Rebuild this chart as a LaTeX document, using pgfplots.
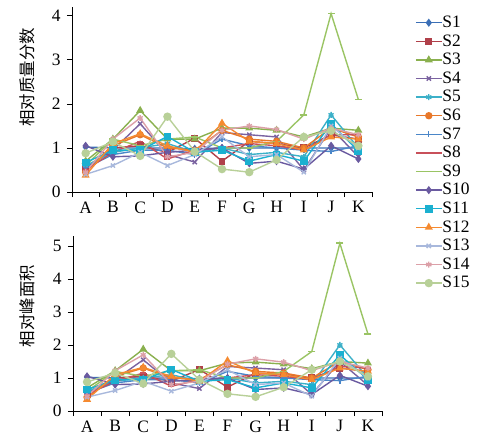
\documentclass[border=0pt]{standalone}
\usepackage{pgfplots}
\pgfplotsset{compat=1.18}
\usepackage{pgfplotstable}
\usepackage{fontspec}
\setmainfont{Liberation Serif}
\newfontfamily\cjk{Noto Sans CJK SC}

\definecolor{c1}{HTML}{3B6FB6}
\definecolor{c2}{HTML}{B0404A}
\definecolor{c3}{HTML}{8AB04E}
\definecolor{c4}{HTML}{7A62A0}
\definecolor{c5}{HTML}{3CB0C8}
\definecolor{c6}{HTML}{E8782A}
\definecolor{c7}{HTML}{4A86C8}
\definecolor{c8}{HTML}{C8505A}
\definecolor{c9}{HTML}{9AC464}
\definecolor{c10}{HTML}{6A5AA0}
\definecolor{c11}{HTML}{1BB0D0}
\definecolor{c12}{HTML}{F58A30}
\definecolor{c13}{HTML}{A8B8DC}
\definecolor{c14}{HTML}{DCA0A8}
\definecolor{c15}{HTML}{B8D098}

% relative mass fraction
\pgfplotstableread{
x  S1   S2   S3   S4   S5   S6   S7   S8   S9   S10  S11  S12  S13  S14  S15
1  1.02 0.50 0.70 0.55 0.60 0.45 0.55 0.50 0.60 1.05 0.67 0.38 0.40 0.45 0.88
2  1.00 1.00 1.20 0.95 0.90 1.05 0.85 0.90 1.20 0.80 0.95 1.10 0.60 1.20 1.14
3  1.00 1.05 1.85 1.55 1.00 1.30 0.95 1.15 1.05 0.82 0.95 1.32 0.90 1.68 0.82
4  1.00 0.90 1.20 0.85 1.10 1.00 0.95 0.75 1.20 0.90 1.26 1.05 0.60 0.80 1.71
5  0.98 1.22 1.20 0.68 0.90 0.95 0.85 0.95 1.25 0.95 0.90 0.90 0.85 0.90 0.92
6  1.00 0.70 1.45 1.35 1.00 1.40 1.20 1.00 1.00 1.00 0.95 1.56 1.25 1.40 0.52
7  1.00 1.15 1.45 1.30 0.85 1.20 1.05 1.10 1.00 0.65 0.70 1.15 0.80 1.50 0.45
8  1.00 1.10 1.40 1.25 0.90 1.15 1.00 1.05 1.15 0.70 0.85 1.10 0.85 1.42 0.73
9  1.00 1.00 1.25 0.50 0.80 1.00 0.95 0.95 1.75 0.52 0.70 0.95 0.45 1.20 1.25
10 1.00 1.30 1.45 1.45 1.75 1.45 0.92 1.30 4.05 1.05 1.55 1.25 1.50 1.45 1.39
11 1.00 1.20 1.40 0.80 1.00 1.25 1.05 1.30 2.10 0.75 0.93 1.20 1.00 1.30 1.05
}\massdata

% relative peak area
\pgfplotstableread{
x  S1   S2   S3   S4   S5   S6   S7   S8   S9   S10  S11  S12  S13  S14  S15
1  1.02 0.50 0.70 0.55 0.60 0.42 0.55 0.50 0.60 1.05 0.65 0.35 0.42 0.45 0.88
2  1.00 1.00 1.22 0.95 0.90 1.05 0.85 0.90 1.20 0.80 0.95 1.10 0.62 1.22 1.15
3  1.00 1.05 1.87 1.55 1.00 1.30 0.95 1.15 1.05 0.82 0.95 1.32 0.90 1.70 0.83
4  1.00 0.90 1.22 0.85 1.10 1.00 0.95 0.75 1.22 0.90 1.26 1.05 0.60 0.80 1.73
5  0.98 1.26 1.22 0.68 0.90 0.95 0.85 0.95 1.25 0.95 0.90 0.90 0.85 0.90 0.95
6  1.00 0.72 1.45 1.35 1.00 1.40 1.20 1.00 1.00 1.00 0.95 1.52 1.25 1.42 0.52
7  1.00 1.15 1.48 1.30 0.85 1.20 1.05 1.10 1.00 0.65 0.70 1.15 0.80 1.58 0.43
8  1.00 1.10 1.42 1.25 0.90 1.15 1.00 1.05 1.20 0.70 0.85 1.10 0.85 1.48 0.72
9  1.00 1.00 1.28 0.50 0.80 1.00 0.95 0.95 1.80 0.50 0.70 0.95 0.45 1.22 1.25
10 1.00 1.30 1.50 1.50 2.00 1.50 0.92 1.35 5.08 1.08 1.70 1.30 1.60 1.50 1.50
11 1.00 1.20 1.45 0.78 1.00 1.25 1.05 1.30 2.33 0.75 0.95 1.20 1.00 1.30 1.05
}\areadata

\tikzset{
  s1/.style={c1, mark=diamond*, mark size=3pt},
  s2/.style={c2, mark=square*, mark size=2.8pt},
  s3/.style={c3, mark=triangle*, mark size=3.3pt},
  s4/.style={c4, mark=x, mark size=3pt},
  s5/.style={c5, mark=asterisk, mark size=3pt},
  s6/.style={c6, mark=*, mark size=3pt},
  s7/.style={c7, mark=+, mark size=3pt},
  s8/.style={c8, mark=-, mark size=3pt},
  s9/.style={c9, mark=-, mark size=3.5pt, mark options={line width=1.6pt}},
  s10/.style={c10, mark=diamond*, mark size=3pt},
  s11/.style={c11, mark=square*, mark size=3.2pt},
  s12/.style={c12, mark=triangle*, mark size=3.3pt},
  s13/.style={c13, mark=x, mark size=3pt},
  s14/.style={c14, mark=asterisk, mark size=3pt},
  s15/.style={c15, mark=*, mark size=3.5pt},
}

\pgfplotsset{
  chart/.style={
    scale only axis,
    xmin=0.5, xmax=11.5, ymin=0,
    axis lines=left,
    axis line style={-, line width=0.8pt},
    tick align=outside,
    major tick length=5bp,
    tick style={black, line width=0.8pt},
    xtick={0.5,1.5,...,11.5},
    xticklabels={},
    extra x ticks={1,2,...,11},
    extra x tick labels={A,B,C,D,E,F,G,H,I,J,K},
    extra x tick style={major tick length=0pt},
    tick label style={font=\fontsize{17.5}{20}\selectfont},
    xticklabel style={yshift=-6bp},
    yticklabel style={xshift=-3bp},
    /pgf/number format/assume math mode=true,
    ylabel style={font=\cjk\fontsize{16.5}{18}\selectfont, anchor=center},
    every axis plot/.append style={line width=1.4pt},
    clip=false,
  },
}

\begin{document}
\begin{tikzpicture}
\useasboundingbox (-72bp,-247bp) rectangle (409bp,192bp);

\begin{axis}[chart,
  at={(0bp,0bp)}, anchor=south west,
  width=300bp, height=185bp,
  ymax=4.2, ytick={0,1,2,3,4},
  ylabel={相对质量分数},
  ylabel style={at={(axis description cs:-0.15,0.62)}},
  legend cell align=left,
  legend style={at={(1.143,0.958)}, anchor=north west, draw=none, fill=none,
    font=\fontsize{17.5}{18}\selectfont, inner sep=0pt, row sep=3.1bp,
    nodes={inner sep=0pt, text height=12.5bp, text depth=3bp},
    /tikz/every even column/.append style={column sep=5bp}},
  legend image code/.code={\draw[mark repeat=2,mark phase=2]
    plot coordinates {(0bp,0bp) (13bp,0bp) (26bp,0bp)};},
]
\addplot[s1]  table[x=x,y=S1]  {\massdata};
\addplot[s2]  table[x=x,y=S2]  {\massdata};
\addplot[s3]  table[x=x,y=S3]  {\massdata};
\addplot[s4]  table[x=x,y=S4]  {\massdata};
\addplot[s5]  table[x=x,y=S5]  {\massdata};
\addplot[s6]  table[x=x,y=S6]  {\massdata};
\addplot[s7]  table[x=x,y=S7]  {\massdata};
\addplot[s8]  table[x=x,y=S8]  {\massdata};
\addplot[s9]  table[x=x,y=S9]  {\massdata};
\addplot[s10] table[x=x,y=S10] {\massdata};
\addplot[s11] table[x=x,y=S11] {\massdata};
\addplot[s12] table[x=x,y=S12] {\massdata};
\addplot[s13] table[x=x,y=S13] {\massdata};
\addplot[s14] table[x=x,y=S14] {\massdata};
\addplot[s15] table[x=x,y=S15] {\massdata};
\legend{S1,S2,S3,S4,S5,S6,S7,S8,S9,S10,S11,S12,S13,S14,S15}
\end{axis}

\begin{axis}[chart,
  at={(1bp,-219bp)}, anchor=south west,
  width=309bp, height=175bp,
  ymax=5.3, ytick={0,1,2,3,4,5},
  ylabel={相对峰面积},
  ylabel style={at={(axis description cs:-0.149,0.60)}},
]
\addplot[s1]  table[x=x,y=S1]  {\areadata};
\addplot[s2]  table[x=x,y=S2]  {\areadata};
\addplot[s3]  table[x=x,y=S3]  {\areadata};
\addplot[s4]  table[x=x,y=S4]  {\areadata};
\addplot[s5]  table[x=x,y=S5]  {\areadata};
\addplot[s6]  table[x=x,y=S6]  {\areadata};
\addplot[s7]  table[x=x,y=S7]  {\areadata};
\addplot[s8]  table[x=x,y=S8]  {\areadata};
\addplot[s9]  table[x=x,y=S9]  {\areadata};
\addplot[s10] table[x=x,y=S10] {\areadata};
\addplot[s11] table[x=x,y=S11] {\areadata};
\addplot[s12] table[x=x,y=S12] {\areadata};
\addplot[s13] table[x=x,y=S13] {\areadata};
\addplot[s14] table[x=x,y=S14] {\areadata};
\addplot[s15] table[x=x,y=S15] {\areadata};
\end{axis}
\end{tikzpicture}
\end{document}
